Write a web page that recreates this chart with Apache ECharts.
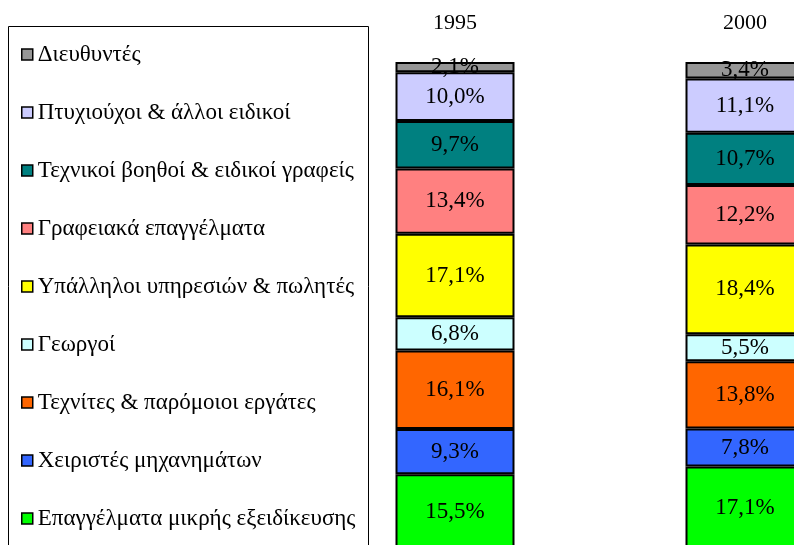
<!DOCTYPE html>
<html>
<head>
<meta charset="utf-8">
<script src="https://cdn.jsdelivr.net/npm/echarts@6/dist/echarts.min.js"></script>
<style>
  html, body { margin: 0; padding: 0; background: #fff; }
  #chart { width: 794px; height: 545px; }
</style>
</head>
<body>
<div id="chart"></div>
<script>
// έτη
const years = ["1995", "2000"];
// κατηγορίες, από κάτω προς τα πάνω στη στήλη
const groups = [
  "Επαγγέλματα μικρής εξειδίκευσης",
  "Χειριστές μηχανημάτων",
  "Τεχνίτες & παρόμοιοι εργάτες",
  "Γεωργοί",
  "Υπάλληλοι υπηρεσιών & πωλητές",
  "Γραφειακά επαγγέλματα",
  "Τεχνικοί βοηθοί & ειδικοί γραφείς",
  "Πτυχιούχοι & άλλοι ειδικοί",
  "Διευθυντές"
];
const values1995 = [15.5, 9.3, 16.1, 6.8, 17.1, 13.4, 9.7, 10.0, 2.1];
const values2000 = [17.1, 7.8, 13.8, 5.5, 18.4, 12.2, 10.7, 11.1, 3.4];
const colors = ["#00ff00", "#3366ff", "#ff6600", "#ccffff", "#ffff00", "#ff8080", "#008080", "#ccccff", "#969696"];

const FONT = "Liberation Serif";

var myChart = echarts.init(document.getElementById("chart"));

// σειρές της στοίβας
const series = groups.map(function (name, i) {
  return {
    name: name,
    type: "bar",
    stack: "total",
    barWidth: 119,
    data: [values1995[i], values2000[i]],
    itemStyle: {
      color: colors[i],
      borderColor: "#000",
      borderWidth: 2
    },
    label: {
      show: true,
      position: "inside",
      color: "#000",
      fontFamily: FONT,
      fontSize: 23,
      formatter: function (p) {
        return p.value.toFixed(1).replace(".", ",") + "%";
      }
    }
  };
});

var option = {
  animation: false,
  backgroundColor: "#fff",
  grid: { left: 310, top: 62, width: 580, height: 488, outerBoundsMode: "none" },
  xAxis: {
    type: "category",
    position: "top",
    data: years,
    axisLine: { show: false },
    axisTick: { show: false },
    axisLabel: { color: "#000", fontFamily: FONT, fontSize: 22, margin: 28 }
  },
  yAxis: {
    type: "value",
    min: 0,
    max: 100,
    show: false
  },
  legend: {
    orient: "vertical",
    left: 21,
    top: 43,
    padding: 0,
    itemGap: 35,
    itemWidth: 11,
    itemHeight: 11,
    icon: "rect",
    data: groups.slice().reverse(),
    itemStyle: { borderColor: "#000", borderWidth: 1.5 },
    textStyle: { color: "#000", fontFamily: FONT, fontSize: 23, lineHeight: 22 }
  },
  graphic: [
    {
      type: "rect",
      shape: { x: 8.5, y: 26.5, width: 360, height: 540 },
      style: { fill: "none", stroke: "#000", lineWidth: 1 }
    }
  ],
  series: series
};

myChart.setOption(option);
</script>
</body>
</html>
